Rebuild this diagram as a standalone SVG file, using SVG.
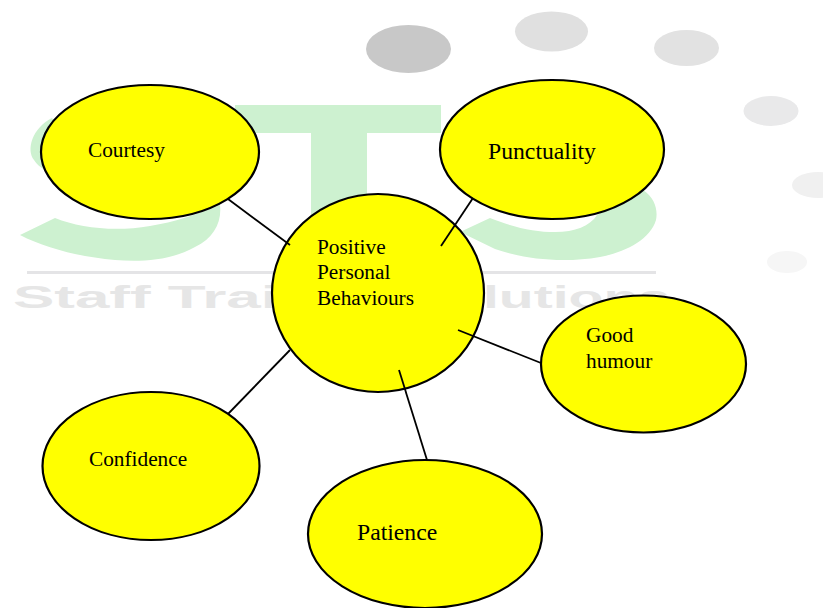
<svg xmlns="http://www.w3.org/2000/svg" width="823" height="608" viewBox="0 0 823 608">
<style>
.node{fill:#ffff00;stroke:#000;stroke-width:2.200}
.lbl{font-family:"Liberation Serif",serif;fill:#000}
.s21{font-size:21.300px}
.s24{font-size:23.700px}
.conn{stroke:#000;stroke-width:1.800;fill:none}
.grn{fill:#cdf1d0}
.wm{font-family:"Liberation Sans",sans-serif;font-size:31px;font-weight:bold;fill:#e6e6e6}
</style>
<rect width="823" height="608" fill="#fff"/>
<g id="watermark">
<ellipse cx="408.500" cy="49" rx="42.500" ry="24" fill="#c8c8c8"/>
<ellipse cx="551.500" cy="31.500" rx="36.500" ry="20" fill="#e0e0e0"/>
<ellipse cx="686.500" cy="48" rx="32.500" ry="18" fill="#e2e2e2"/>
<ellipse cx="771" cy="111" rx="27.500" ry="15" fill="#e9e9ea"/>
<ellipse cx="818" cy="185" rx="26" ry="13" fill="#f0f0f0"/>
<ellipse cx="787" cy="262" rx="20" ry="11" fill="#f6f6f6"/>
<rect x="235" y="105" width="206" height="28" class="grn"/>
<rect x="311" y="125" width="56" height="110" class="grn"/>
<path d="M52 118C32 128 26 150 34 160C40 170 55 175 80 185L60 130Z" class="grn"/>
<path d="M20 235L55 218C80 228 115 232 150 226C175 222 195 215 220 205C222 222 214 238 195 247C170 261 140 262 115 260C80 257 45 248 20 235Z" class="grn"/>
<path d="M460 232L490 218C515 228 535 232 555 232C575 232 590 226 597 215L643 190C655 198 658 210 656 220C650 240 625 252 600 257C560 264 520 258 495 249Z" class="grn"/>
<rect x="27" y="271" width="629" height="3" fill="#e4e4e6"/>
<text class="wm" x="13" y="308" textLength="265" lengthAdjust="spacingAndGlyphs">Staff Trai</text>
<text class="wm" x="483" y="308" textLength="187" lengthAdjust="spacingAndGlyphs">lutions</text>
</g>
<g id="node-center"><ellipse class="node" cx="378" cy="293" rx="106" ry="99"/><text class="lbl s21"><tspan x="317" y="254">Positive</tspan><tspan x="317" y="279">Personal</tspan><tspan x="317" y="305">Behaviours</tspan></text></g>
<g id="node-courtesy"><ellipse class="node" cx="150" cy="152" rx="109" ry="67"/><text class="lbl s21" x="88" y="157">Courtesy</text></g>
<g id="node-punctuality"><ellipse class="node" cx="552" cy="149.500" rx="112" ry="69.500"/><text class="lbl s24" x="488" y="159">Punctuality</text></g>
<g id="node-humour"><ellipse class="node" cx="643.500" cy="364" rx="102.500" ry="68.500"/><text class="lbl s21"><tspan x="586" y="342">Good</tspan><tspan x="586" y="368">humour</tspan></text></g>
<g id="node-confidence"><ellipse class="node" cx="151" cy="466" rx="108.500" ry="74"/><text class="lbl s21" x="89" y="466">Confidence</text></g>
<g id="node-patience"><ellipse class="node" cx="425" cy="534" rx="117" ry="74"/><text class="lbl s24" x="357" y="540">Patience</text></g>
<g id="connectors">
<line class="conn" x1="228" y1="199" x2="290" y2="245"/>
<line class="conn" x1="473" y1="198" x2="441" y2="246"/>
<line class="conn" x1="458" y1="330" x2="541" y2="363"/>
<line class="conn" x1="399" y1="370" x2="427" y2="460"/>
<line class="conn" x1="290" y1="350" x2="228" y2="414"/>
</g>
</svg>
